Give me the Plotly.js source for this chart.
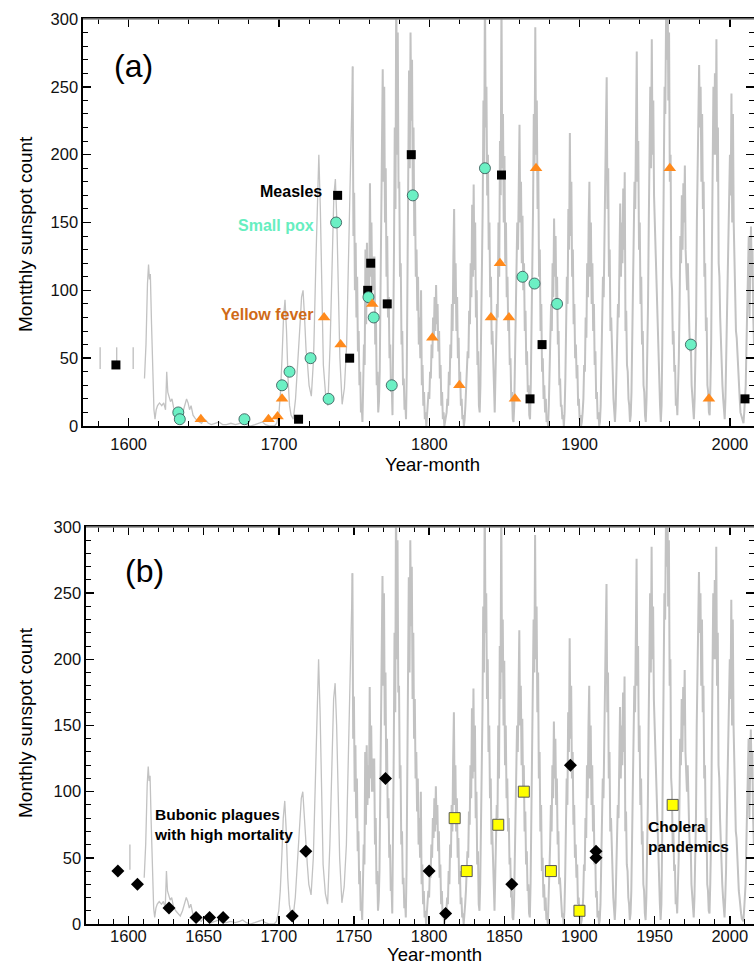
<!DOCTYPE html>
<html>
<head>
<meta charset="utf-8">
<script src="https://cdn.plot.ly/plotly-3.0.1.min.js"></script>
<style>html,body{margin:0;padding:0;background:#fff;overflow:hidden}#chart{width:754px;height:964px}</style>
</head>
<body>
<div id="chart"></div>
<script>
// ---------- Sunspot series ----------
// Early, sparse part (years and values)
const ssnEarlyYears = [1610.5,1611.5,1612.5,1613.2,1613.8,1614.4,1615.2,1616.0,1616.8,1617.5,1618.3,1619.2,1620.5,1622.0,1623.3,1624.5,1625.3,1626.0,1626.8,1627.8,1628.8,1630.0,1631.5,1633.0,1634.5,1636.0,1637.3,1638.5,1639.5,1640.5,1641.5,1642.8,1644.0,1645.5,1647.0,1648.5,1650.0,1651.5,1653.0,1655.0,1657.5,1660.0,1662.5,1665.0,1668.0,1671.0,1674.0,1676.0,1678.5,1681.0,1684.0,1687.0,1689.0,1691.0,1694.0,1697.0,1698.5,1700.0,1701.0,1702.0,1703.0,1704.0,1705.0,1706.0,1707.0,1708.0,1709.5,1711.0,1712.5,1714.0,1715.0,1716.0,1717.0,1718.0,1719.0,1720.0,1721.5,1723.0,1724.5,1725.5,1726.5,1727.5,1728.5,1729.5,1731.0,1732.5,1734.0,1735.5,1736.5,1737.5,1738.5,1739.5,1740.5,1742.0,1743.5,1745.0,1746.5,1747.5,1748.5];
const ssnEarlyVals  = [35,60,105,119,108,112,75,40,12,5,12,15,17,15,17,12,40,25,22,18,20,13,10,8,6,10,15,20,17,12,15,8,6,4,3,2,5,4,2,1,2,3,1,1,2,1,2,3,1,0,1,2,3,1,0,0,2,10,25,50,80,93,70,35,15,8,5,20,45,75,95,100,80,56,45,30,22,50,120,170,200,160,90,45,23,15,60,130,170,182,150,100,50,16,28,60,130,190,240];

// Half-year samples per solar cycle (start year of each block + values)
const cycleStarts = [1749.0,1756.0,1767.0,1776.0,1785.0,1798.5,1811.0,1823.5,1834.0,1844.0,1856.5,1867.5,1879.5,1890.0,1901.5,1914.0,1924.0,1934.0,1944.5,1954.5,1965.5,1976.5,1987.0,1997.0,2009.5];
const cyc00 = [265,140,172,100,135,80,110,55,70,30,40,10,15,3];
const cyc01 = [30,60,45,130,75,135,90,120,95,179,110,150,100,125,100,125,60,80,30,40,10,18];
const cyc02 = [40,95,140,200,263,180,250,150,190,110,140,80,95,50,60,25,30,8];
const cyc03 = [60,130,220,160,330,200,290,175,180,110,120,60,70,30,35,12,18,5];
const cyc04 = [40,110,180,262,190,290,225,270,170,220,140,170,110,130,85,110,60,80,50,100,30,45,15,25,5,10,0];
const cyc05 = [8,15,25,20,40,35,60,50,80,65,95,70,104,75,90,55,70,35,45,15,25,5,10,0,3];
const cyc06 = [5,10,20,15,40,30,60,50,90,70,125,160,90,120,70,95,50,65,30,40,15,20,5,8,0];
const cyc07 = [5,15,25,35,55,50,85,75,120,95,163,110,178,115,150,80,100,45,55,15,10];
const cyc08 = [30,70,110,160,240,190,330,220,250,170,200,130,150,95,110,60,70,35,30,10];
const cyc09 = [35,60,90,80,150,110,210,170,320,190,230,150,199,120,150,95,110,70,80,45,50,20,25,5,3];
const cyc10 = [15,45,80,110,150,130,190,222,150,180,120,155,100,120,70,85,45,55,25,30,8,5];
const cyc11 = [30,70,120,160,230,190,294,200,240,160,190,110,130,70,90,40,50,20,30,10,20,3,5,0];
const cyc12 = [15,40,60,90,70,120,95,153,110,140,90,110,60,70,30,35,15,15,5,8,0];
const cyc13 = [10,35,60,110,90,160,130,216,140,180,110,130,75,90,50,60,35,45,15,20,5,8,0];
const cyc14 = [3,10,20,45,40,80,65,120,95,150,180,110,150,90,120,70,90,45,55,20,25,5,10,0,3];
const cyc15 = [15,40,75,110,95,150,170,220,257,160,190,110,130,70,80,45,40,20,10,3];
const cyc16 = [15,35,60,90,80,130,164,110,150,120,175,130,187,70,85,45,40,20,15,3];
const cyc17 = [8,25,60,100,140,180,160,230,276,180,210,130,150,90,110,60,70,30,25,8,3];
const cyc18 = [20,50,90,150,200,250,190,285,200,240,170,150,120,110,80,60,45,30,15,3];
const cyc19 = [15,60,110,190,250,230,300,270,340,240,290,180,200,110,100,60,70,40,45,15,20,8];
const cyc20 = [25,50,90,140,120,170,130,179,150,192,130,110,100,120,80,70,55,60,30,20,15,5];
const cyc21 = [20,40,80,150,190,230,266,220,250,180,230,160,180,110,120,70,80,30,25,10,8];
const cyc22 = [30,60,130,170,250,200,260,200,285,180,220,120,110,80,60,45,30,20,10,5];
const cyc23 = [20,40,80,110,140,170,200,170,245,150,230,150,120,100,70,65,50,40,25,20,10,8,4,3,2];
const cyc24 = [10,20,30,60,90,100,140,80,120,147,110,130,80,60];
const cycleBlocks = [cyc00,cyc01,cyc02,cyc03,cyc04,cyc05,cyc06,cyc07,cyc08,cyc09,cyc10,cyc11,cyc12,cyc13,cyc14,cyc15,cyc16,cyc17,cyc18,cyc19,cyc20,cyc21,cyc22,cyc23,cyc24];
const sampleStep = 0.5;

// isolated early records (vertical bars)
const earlyBarYearsA = [1581,1592,1603];
const earlyBarLowA   = [42,42,42];
const earlyBarHighA  = [58,58,58];
const earlyBarYearsB = [1601];
const earlyBarLowB   = [41];
const earlyBarHighB  = [60];

// ---------- Epidemics, panel (a) ----------
const measlesYears = [1591.5,1713,1739,1747,1759,1761,1772,1788,1848,1867,1875,2010];
const measlesVals  = [45,5,170,50,100,120,90,200,185,20,60,20];
const smallpoxYears = [1633,1634,1677,1702,1707,1721,1733,1738,1759.5,1763,1775,1789,1837,1862,1870,1885,1974];
const smallpoxVals  = [10,5,5,30,40,50,20,150,95,80,30,170,190,110,105,90,60];
const yellowYears = [1648,1693,1699,1702,1730,1741,1762,1802,1820,1841,1847,1853,1857,1871,1960,1986];
const yellowVals  = [5,5,7,20,80,60,90,65,30,80,120,80,20,190,190,20];

// ---------- Epidemics, panel (b) ----------
const plagueYears = [1593,1606,1627,1645,1654,1663,1709,1718,1771,1800,1811,1855,1894,1911,1911];
const plagueVals  = [40,30,12,5,5,5,6,55,110,40,8,30,120,55,50];
const choleraYears = [1817,1825,1846,1863,1881,1900,1962];
const choleraVals  = [80,40,75,100,40,10,90];

// ---------- build series ----------
const modX = [], modY = [];
cycleBlocks.forEach((blk, k) => {
  blk.forEach((v, i) => { modX.push(cycleStarts[k] + i * sampleStep); modY.push(v); });
});
const earlyX = ssnEarlyYears.concat([modX[0]]);
const earlyY = ssnEarlyVals.concat([modY[0]]);
function bars(xs, lo, hi) {
  const x = [], y = [];
  xs.forEach((v, i) => { x.push(v, v, null); y.push(lo[i], hi[i], null); });
  return {x, y};
}
const barsA = bars(earlyBarYearsA, earlyBarLowA, earlyBarHighA);
const barsB = bars(earlyBarYearsB, earlyBarLowB, earlyBarHighB);

const GRAY = '#c2c2c2';
const FONT = 'Liberation Sans, Arial, Helvetica, sans-serif';

function lineTraces(xa, ya, barsXY) {
  return [
    {x: earlyX, y: earlyY, xaxis:xa, yaxis:ya, type:'scatter', mode:'lines', line:{color:GRAY, width:1.3}, hoverinfo:'skip'},
    {x: modX, y: modY, xaxis:xa, yaxis:ya, type:'scatter', mode:'lines', line:{color:GRAY, width:2}, hoverinfo:'skip'},
    {x: barsXY.x, y: barsXY.y, xaxis:xa, yaxis:ya, type:'scatter', mode:'lines', line:{color:GRAY, width:1.4}, hoverinfo:'skip'}
  ];
}

const traces = [].concat(
  lineTraces('x', 'y', barsA),
  [
    {x: measlesYears, y: measlesVals, xaxis:'x', yaxis:'y', type:'scatter', mode:'markers', marker:{symbol:'square', size:9, color:'#000'}},
    {x: smallpoxYears, y: smallpoxVals, xaxis:'x', yaxis:'y', type:'scatter', mode:'markers', marker:{symbol:'circle', size:11, color:'#6cf0c4', line:{color:'#2f4f4f', width:0.8}}},
    {x: yellowYears, y: yellowVals, xaxis:'x', yaxis:'y', type:'scatter', mode:'markers', marker:{symbol:'triangle-up', size:11, color:'#ff8a1c'}}
  ],
  lineTraces('x2', 'y2', barsB),
  [
    {x: plagueYears, y: plagueVals, xaxis:'x2', yaxis:'y2', type:'scatter', mode:'markers', marker:{symbol:'diamond', size:10, color:'#000'}},
    {x: choleraYears, y: choleraVals, xaxis:'x2', yaxis:'y2', type:'scatter', mode:'markers', marker:{symbol:'square', size:11, color:'#ffff00', line:{color:'#555', width:1}}}
  ]
);

const W = 754, H = 964;
const TICKFONT = {size:16.5, family:FONT, color:'#111'};
function xAx(domainLeft, range, dtick, minorDtick, anchor, standoff) {
  return {domain:[domainLeft/W, 1], range: range, anchor: anchor, tick0:1600, dtick: dtick,
    ticks:'inside', ticklen:8, tickwidth:1.5, tickcolor:'#000', showline:true, linecolor:'#000', linewidth:1.6,
    mirror:'ticks', showgrid:false, zeroline:false, ticklabelstandoff:standoff, tickfont:TICKFONT,
    minor:{dtick:minorDtick, tick0:1600, ticks:'inside', ticklen:5, tickwidth:1, tickcolor:'#000', showgrid:false}};
}
function yAx(top, bottom, anchor) {
  return {domain:[(H-bottom)/H, (H-top)/H], range:[0,300], anchor: anchor, tick0:0, dtick:50,
    ticks:'inside', ticklen:8, tickwidth:1.5, tickcolor:'#000', showline:true, linecolor:'#000', linewidth:1.6,
    mirror:'ticks', showgrid:false, zeroline:false, tickfont:TICKFONT,
    minor:{dtick:10, ticks:'inside', ticklen:5, tickwidth:1, tickcolor:'#000', showgrid:false}};
}

function ann(text, x, y, xref, yref, opts) {
  return Object.assign({text, x, y, xref, yref, showarrow:false, xanchor:'center', yanchor:'middle',
    font:{family:FONT, size:16, color:'#000'}}, opts||{});
}
const TITLEFONT = {family:FONT, size:19, color:'#000'};
const XTITLEFONT = {family:FONT, size:18.5, color:'#000'};

const layout = {
  width: W, height: H, margin:{l:0, r:0, t:0, b:0}, showlegend:false,
  paper_bgcolor:'#fff', plot_bgcolor:'#fff',
  font:{family:FONT, size:16, color:'#000'},
  xaxis: xAx(83, [1569.6, 2016.0], 100, 20, 'y', 3),
  yaxis: yAx(19, 426, 'x'),
  xaxis2: xAx(86, [1571.8, 2016.1], 50, 10, 'y2', -3),
  yaxis2: yAx(527, 924, 'x2'),
  shapes: [
    {type:'line', xref:'x domain', yref:'y domain', x0:0, x1:1, y0:1, y1:1, line:{color:'#8a8a8a', width:1.6}, layer:'above'},
    {type:'line', xref:'x2 domain', yref:'y2 domain', x0:0, x1:1, y0:1, y1:1, line:{color:'#8a8a8a', width:1.6}, layer:'above'}
  ],
  annotations: [
    ann('(a)', 133/W, 1-66/H, 'paper', 'paper', {font:{family:FONT, size:32, color:'#000'}}),
    ann('(b)', 144/W, 1-571/H, 'paper', 'paper', {font:{family:FONT, size:32, color:'#000'}}),
    ann('Montthly sunspot count', 25/W, 1-234/H, 'paper', 'paper', {textangle:-90, font:TITLEFONT}),
    ann('Monthly sunspot count', 25/W, 1-723/H, 'paper', 'paper', {textangle:-90, font:TITLEFONT}),
    ann('Year-month', 432/W, 1-464/H, 'paper', 'paper', {font:XTITLEFONT, borderpad:0}),
    ann('Year-month', 434/W, 1-954/H, 'paper', 'paper', {font:XTITLEFONT, borderpad:0}),
    ann('<b>Measles</b>', 1729.8, 172.7, 'x', 'y', {xanchor:'right', font:{family:FONT, size:16, color:'#000'}}),
    ann('<b>Small pox</b>', 1724.3, 147.6, 'x', 'y', {xanchor:'right', font:{family:FONT, size:16, color:'#66eec0'}}),
    ann('<b>Yellow fever</b>', 1724.3, 82.3, 'x', 'y', {xanchor:'right', font:{family:FONT, size:16, color:'#cf6a18'}}),
    ann('<b>Bubonic plagues<br>with high mortality</b>', 1615.7, 75, 'x2', 'y2', {xanchor:'left', align:'left', font:{family:FONT, size:15.5, color:'#000'}}),
    ann('<b>Cholera<br>pandemics</b>', 1944.3, 66, 'x2', 'y2', {xanchor:'left', align:'left', font:{family:FONT, size:15.5, color:'#000'}})
  ]
};

Plotly.newPlot('chart', traces, layout, {staticPlot:true, displayModeBar:false});
</script>
</body>
</html>
